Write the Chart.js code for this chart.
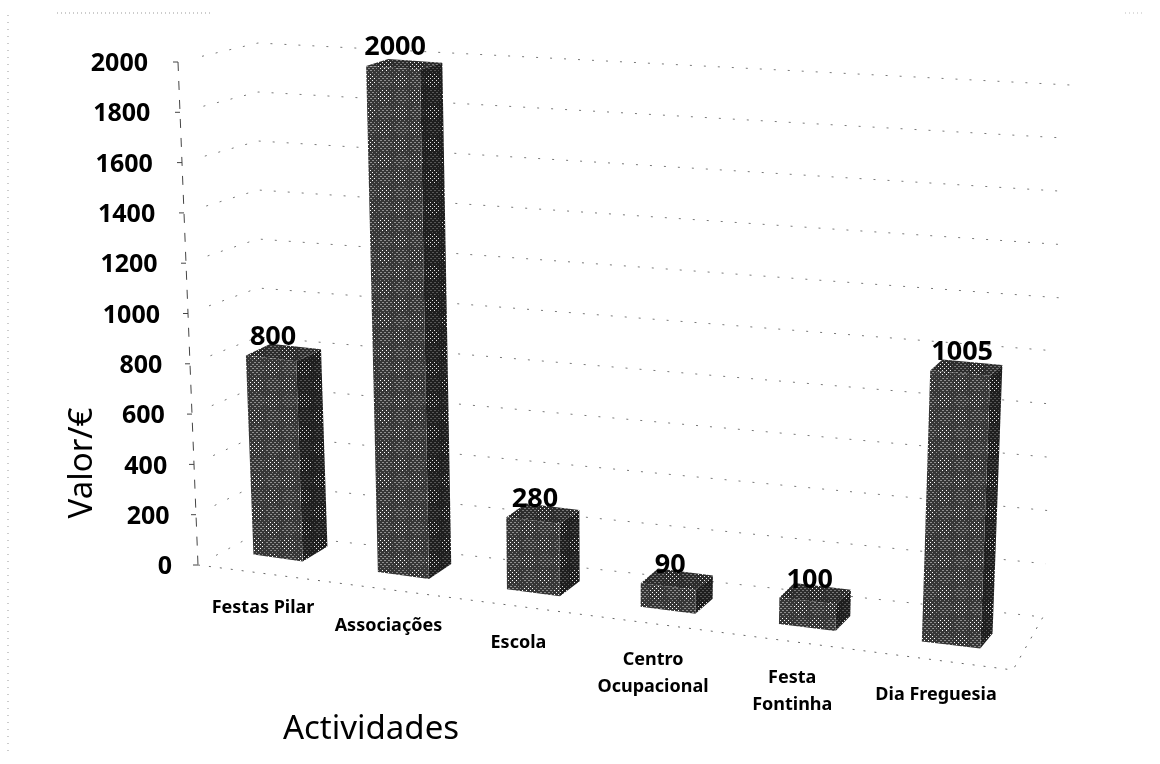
<!DOCTYPE html>
<html>
<head>
<meta charset="utf-8">
<script src="https://cdn.jsdelivr.net/npm/chart.js@4"></script>
<style>
  html, body { margin: 0; background: #fff; }
  canvas { display: block; }
</style>
</head>
<body>
<canvas id="grafico" width="1160" height="764"></canvas>
<script>
const categorias = ['Festas Pilar', 'Associações', 'Escola', ['Centro', 'Ocupacional'], ['Festa', 'Fontinha'], 'Dia Freguesia'];
const valores = [800, 2000, 280, 90, 100, 1005];
const valorTicks = [0, 200, 400, 600, 800, 1000, 1200, 1400, 1600, 1800, 2000];
const tituloX = 'Actividades';
const tituloY = 'Valor/€';

// halftone look of the scanned bars, with the moire clusters
const padrao = (fundo, meio, claro) => {
    const n = 32;
    const c = document.createElement('canvas');
    c.width = n; c.height = n;
    const g = c.getContext('2d');
    g.fillStyle = fundo;
    g.fillRect(0, 0, n, n);
    for (let y = 0; y < n; y += 2) {
        for (let x = (y / 2) % 2 * 2; x < n; x += 4) {
            const t = Math.cos(2 * Math.PI * x / n) * Math.cos(2 * Math.PI * y / n);
            g.fillStyle = t > 0.35 ? claro : meio;
            g.fillRect(x, y, 1, 1);
            if (t < -0.2) g.fillRect(x + 1, y, 1, 1);
        }
    }
    return g.createPattern(c, 'repeat');
};

// perspective of the old 3D chart: plot position -> page position
const frac = (area, px, py) => ({
    u: (px - area.left) / (area.right - area.left),
    v: (area.bottom - py) / (area.bottom - area.top)
});
const projeta = (area, px, py) => {
    const { u, v } = frac(area, px, py);
    return {
        x: 217 + 724.6 * u + 83 * u * u + v * (-21 + 42.7 * u),
        y: 549.3 + 104.4 * u - (495 + 50 * u) * v
    };
};

const poligono = (ctx, pts, fill) => {
    ctx.beginPath();
    pts.forEach((p, i) => i ? ctx.lineTo(p.x, p.y) : ctx.moveTo(p.x, p.y));
    ctx.closePath();
    ctx.fillStyle = fill;
    ctx.fill();
};

const linha = (ctx, pts, dash, cor, w) => {
    ctx.save();
    ctx.setLineDash(dash);
    ctx.strokeStyle = cor;
    ctx.lineWidth = w;
    ctx.beginPath();
    pts.forEach((p, i) => i ? ctx.lineTo(p[0], p[1]) : ctx.moveTo(p[0], p[1]));
    ctx.stroke();
    ctx.restore();
};

const grafico3d = {
    id: 'grafico3d',
    beforeDatasetsDraw(chart) {
        const ctx = chart.ctx, area = chart.chartArea, y = chart.scales.y;
        const frente = padrao('#363636', '#8e8e8e', '#ffffff');
        const lado = padrao('#1e1e1e', '#555555', '#e0e0e0');
        const topo = padrao('#2c2c2c', '#777777', '#f0f0f0');

        // scan border
        linha(ctx, [[8, 15], [8, 752]], [1, 6], '#999', 1);
        linha(ctx, [[57, 13], [210, 13]], [1, 3], '#999', 1);
        linha(ctx, [[1125, 13], [1142, 13]], [1, 3], '#bbb', 1);

        // walls
        valorTicks.forEach(t => {
            const ay = y.getPixelForValue(t);
            const v = (area.bottom - ay) / (area.bottom - area.top);
            const ax = 198 - 20 * v;
            const cx = 258, cy = 533 - 490 * v;
            const rx = 1043 + 27 * v, ry = 617 - 532 * v;
            linha(ctx, [[ax + (cx - ax) * 0.3, ay + (cy - ay) * 0.3], [cx, cy], [rx, ry]], [2, 12], '#777', 1);
            linha(ctx, [[ax - 5, ay], [ax, ay]], [], '#444', 1);
        });
        linha(ctx, [[178, 62], [198, 565]], [9, 10], '#444', 1);
        linha(ctx, [[198, 565], [1013, 670], [1043, 617]], [2, 9], '#666', 1);

        // bars
        chart.getDatasetMeta(0).data.forEach((bar, i) => {
            const esq = bar.x - bar.width / 2, dir = bar.x + bar.width / 2;
            const a = projeta(area, esq, bar.y), b = projeta(area, dir, bar.y);
            const c = projeta(area, dir, bar.base), d = projeta(area, esq, bar.base);
            const { u, v } = frac(area, bar.x, bar.y);
            const dx = 26 - 15 * u;
            const atrasTopo = p => ({ x: p.x + dx, y: p.y - 15 + 8 * v });
            const atrasBase = p => ({ x: p.x + dx, y: p.y - 15 });
            poligono(ctx, [a, b, atrasTopo(b), atrasTopo(a)], topo);
            poligono(ctx, [b, c, atrasBase(c), atrasTopo(b)], lado);
            poligono(ctx, [a, b, c, d], frente);

            // value over the bar
            ctx.fillStyle = '#000';
            ctx.font = 'bold 27px "Noto Sans"';
            ctx.textAlign = 'center';
            ctx.textBaseline = 'middle';
            ctx.fillText(String(valores[i]), (a.x + b.x) / 2 + 2, (a.y + b.y) / 2 - 21);

            // category label
            const nomes = [].concat(categorias[i]);
            ctx.font = 'bold 18px "Noto Sans"';
            nomes.forEach((n, k) => {
                ctx.fillText(n, (c.x + d.x) / 2 - 15, (c.y + d.y) / 2 + 50 + k * 27);
            });
        });

        // value axis labels follow the slanted axis
        ctx.fillStyle = '#000';
        ctx.font = 'bold 25px "Noto Sans"';
        ctx.textAlign = 'right';
        ctx.textBaseline = 'middle';
        valorTicks.forEach(t => {
            const py = y.getPixelForValue(t);
            const v = (area.bottom - py) / (area.bottom - area.top);
            ctx.fillText(String(t), 172 - 24 * v, py + 2);
        });

        // axis titles
        ctx.font = '33px "Noto Sans"';
        ctx.textAlign = 'center';
        ctx.fillText(tituloX, 371, 730);
        ctx.save();
        ctx.translate(83, 463);
        ctx.rotate(-Math.PI / 2);
        ctx.fillText(tituloY, 0, 0);
        ctx.restore();
        return false;
    }
};

new Chart(document.getElementById('grafico'), {
    type: 'bar',
    data: {
        labels: categorias,
        datasets: [{ label: 'Valor/€', data: valores, backgroundColor: '#444', barPercentage: 0.4, categoryPercentage: 1 }]
    },
    plugins: [grafico3d],
    options: {
        responsive: false,
        animation: false,
        layout: { padding: { left: 190, right: 150, top: 62, bottom: 199 } },
        plugins: { legend: { display: false }, title: { display: false }, tooltip: { enabled: false } },
        scales: {
            x: { display: false },
            y: { display: false, min: 0, max: 2000 }
        }
    }
});
</script>
</body>
</html>
